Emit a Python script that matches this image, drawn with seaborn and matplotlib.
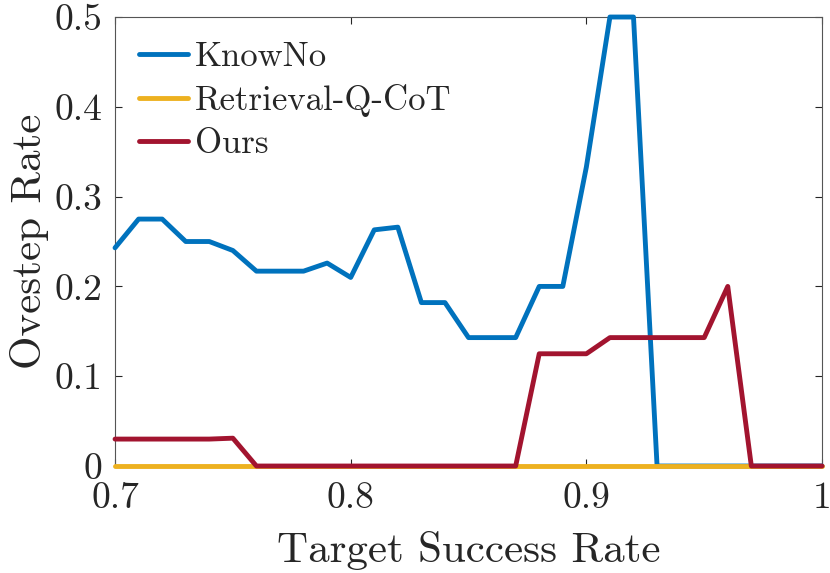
import matplotlib
matplotlib.use('Agg')
import matplotlib.pyplot as plt
import numpy as np
import seaborn as sns
import pandas as pd

# target success rates 0.70 ... 1.00
target = [0.70, 0.71, 0.72, 0.73, 0.74, 0.75, 0.76, 0.77, 0.78, 0.79, 0.80,
          0.81, 0.82, 0.83, 0.84, 0.85, 0.86, 0.87, 0.88, 0.89, 0.90,
          0.91, 0.92, 0.93, 0.94, 0.95, 0.96, 0.97, 0.98, 0.99, 1.00]
knowno = [0.243, 0.275, 0.275, 0.25, 0.25, 0.24, 0.217, 0.217, 0.217, 0.226, 0.21,
          0.263, 0.266, 0.182, 0.182, 0.143, 0.143, 0.143, 0.2, 0.2, 0.333,
          0.5, 0.5, 0, 0, 0, 0, 0, 0, 0, 0]
retrieval = [0] * 31
ours = [0.03, 0.03, 0.03, 0.03, 0.03, 0.031, 0, 0, 0, 0, 0,
        0, 0, 0, 0, 0, 0, 0, 0.125, 0.125, 0.125,
        0.143, 0.143, 0.143, 0.143, 0.143, 0.2, 0, 0, 0, 0]
labels = ['KnowNo', 'Retrieval-Q-CoT', 'Ours']
colors = ['#0072BD', '#EDB120', '#A2142F']

xticks = [0.7, 0.8, 0.9, 1.0]
xticklabels = ['0.7', '0.8', '0.9', '1']
yticks = [0, 0.1, 0.2, 0.3, 0.4, 0.5]
yticklabels = ['0', '0.1', '0.2', '0.3', '0.4', '0.5']

sns.set_style('ticks')
plt.rcParams['font.family'] = ['cmr10', 'DejaVu Serif']
plt.rcParams['axes.formatter.use_mathtext'] = True
plt.rcParams['axes.unicode_minus'] = False

df = pd.DataFrame({
    'target': target * 3,
    'rate': knowno + retrieval + ours,
    'method': [labels[0]] * 31 + [labels[1]] * 31 + [labels[2]] * 31,
})

fig = plt.figure(figsize=(8.3, 5.73), dpi=100)
ax = fig.add_axes([0.1386, 0.1867, 0.8518, 0.7836])

sns.lineplot(data=df, x='target', y='rate', hue='method', hue_order=labels,
             palette=colors, linewidth=3.5, ax=ax, legend=True)
for i, line in enumerate(ax.get_lines()):
    line.set_clip_on(False)
    line.set_zorder(3 + i * 0.1)

ax.set_xlim(0.7, 1.0)
ax.set_ylim(0, 0.5)
ax.set_xticks(xticks)
ax.set_xticklabels(xticklabels)
ax.set_yticks(yticks)
ax.set_yticklabels(yticklabels)

ax.set_xlabel('Target Success Rate', fontsize=31, labelpad=12)
ax.set_ylabel('Ovestep Rate', fontsize=31, labelpad=4)

ax.tick_params(direction='in', length=5, width=0.8, labelsize=27,
               top=True, right=True, colors='#262626')
ax.tick_params(axis='y', pad=9)
ax.tick_params(axis='x', pad=11)
for side in ['left', 'right', 'top', 'bottom']:
    ax.spines[side].set_visible(True)
    ax.spines[side].set_color('#555555')
    ax.spines[side].set_linewidth(0.8)

legend = ax.legend(loc='upper left', frameon=False, fontsize=25,
                   handlelength=1.4, handletextpad=0.2, labelspacing=0.32,
                   borderaxespad=0.4, borderpad=0.3)
for line in legend.get_lines():
    line.set_linewidth(3.5)

plt.savefig('out.png', dpi=100)
